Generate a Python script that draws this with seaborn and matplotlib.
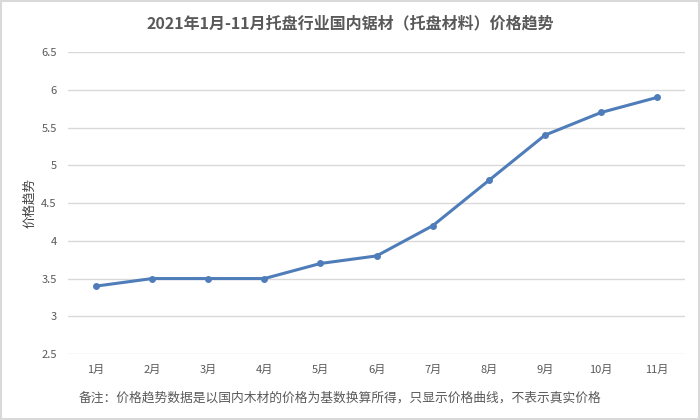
import matplotlib
matplotlib.use("Agg")
import matplotlib.pyplot as plt
import seaborn as sns
import pandas as pd
from matplotlib.patches import Rectangle

# 数据
months = ["1月", "2月", "3月", "4月", "5月", "6月", "7月", "8月", "9月", "10月", "11月"]
prices = [3.4, 3.5, 3.5, 3.5, 3.7, 3.8, 4.2, 4.8, 5.4, 5.7, 5.9]
y_ticks = [2.5, 3, 3.5, 4, 4.5, 5, 5.5, 6, 6.5]
y_tick_labels = ["2.5", "3", "3.5", "4", "4.5", "5", "5.5", "6", "6.5"]

df = pd.DataFrame({"month": months, "price": prices})

sns.set_style("white")
plt.rcParams['font.family'] = ['Noto Sans CJK SC', 'DejaVu Sans']

fig = plt.figure(figsize=(7, 4.2), dpi=100)
ax = fig.add_axes([0.097, 0.157, 0.882, 0.719])

sns.lineplot(data=df, x="month", y="price", ax=ax, color="#4F7DB9",
             linewidth=2.2, marker="o", markersize=5, markeredgewidth=0,
             sort=False)

ax.set_xlim(-0.5, len(months) - 0.5)
ax.set_ylim(2.5, 6.5)
ax.set_yticks(y_ticks)
ax.set_yticklabels(y_tick_labels)
ax.yaxis.grid(True, color="#D9D9D9", linewidth=1)
ax.set_axisbelow(True)
for s in ax.spines.values():
    s.set_visible(False)
ax.tick_params(axis="both", length=0, labelsize=8, labelcolor="#595959")
ax.tick_params(axis="y", pad=8)
ax.tick_params(axis="x", pad=8)
ax.set_xlabel("")
ax.set_ylabel("价格趋势", fontsize=9, color="#404040")
ax.yaxis.set_label_coords(-0.052, 0.5)

fig.text(0.5, 0.945, "2021年1月-11月托盘行业国内锯材（托盘材料）价格趋势",
         ha="center", va="center", fontsize=11.5, fontweight="bold", color="#595959")
fig.text(0.113, 0.052, "备注：价格趋势数据是以国内木材的价格为基数换算所得，只显示价格曲线，不表示真实价格",
         ha="left", va="center", fontsize=9.2, color="#595959")

fig.patches.append(Rectangle((0.002, 0.003), 0.996, 0.994, transform=fig.transFigure,
                             fill=False, edgecolor="#D9D9D9", linewidth=1.5))

fig.savefig("out.png", dpi=100)
